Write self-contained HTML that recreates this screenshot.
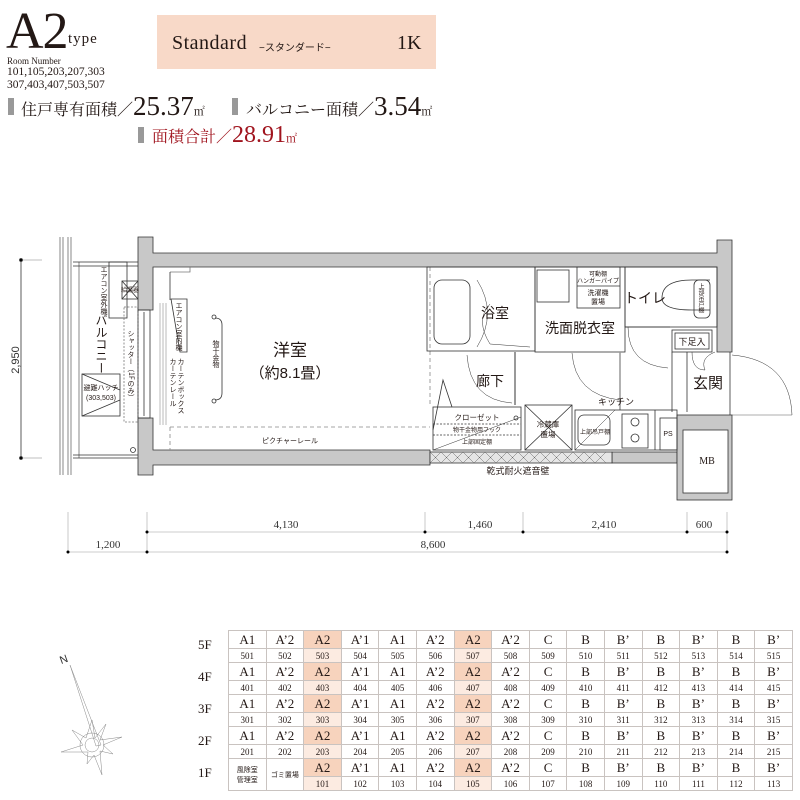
<!DOCTYPE html>
<html><head><meta charset="utf-8">
<style>
body{margin:0;background:#fff;}
#w{position:relative;width:800px;height:800px;overflow:hidden;font-family:"Liberation Serif","Noto Serif CJK SC",serif;color:#231815;}
.a{position:absolute;white-space:nowrap;}
table{position:absolute;left:228px;top:630px;border-collapse:collapse;table-layout:fixed;width:565px;}
td{border:1px solid #c9c3c0;text-align:center;padding:0;font-family:"Liberation Serif",serif;color:#231815;}
tr.t td{height:17px;font-size:13px;}
tr.n td{height:13px;font-size:9px;}
td.h{background:#f7d3bd;}
tr.n td.h{background:#fcebe1;}
.fl{position:absolute;left:198px;font-size:13px;font-family:"Liberation Serif",serif;}
.v{writing-mode:vertical-rl;font-family:"Noto Sans CJK JP",sans-serif;}
</style></head><body><div id="w">
<div class="a" style="left:6px;top:6px;font-size:52px;line-height:52px;letter-spacing:-1px">A2</div>
<div class="a" style="left:68px;top:31px;font-size:15px;letter-spacing:1px">type</div>
<div class="a" style="left:7px;top:56px;font-size:9px">Room Number</div>
<div class="a" style="left:7px;top:66px;font-size:11.5px;line-height:13px">101,105,203,207,303<br>307,403,407,503,507</div>
<div class="a" style="left:157px;top:15px;width:279px;height:54px;background:#f8d9c8"></div>
<div class="a" style="left:172px;top:32px;font-size:20px;letter-spacing:0.5px">Standard</div>
<div class="a" style="left:259px;top:39px;font-size:10px;font-family:'Liberation Sans','Noto Sans CJK JP',sans-serif">−スタンダード−</div>
<div class="a" style="left:397px;top:32px;font-size:20px">1K</div>
<div class="a" style="left:8px;top:98px;width:6px;height:17px;background:#999"></div>
<div class="a" style="left:21px;top:95px;font-size:16px;line-height:22px">住戸専有面積／<span style="font-size:27px">25.37</span><span style="font-size:11px">㎡</span></div>
<div class="a" style="left:232px;top:98px;width:6px;height:17px;background:#999"></div>
<div class="a" style="left:246px;top:95px;font-size:16px;line-height:22px">バルコニー面積／<span style="font-size:27px">3.54</span><span style="font-size:11px">㎡</span></div>
<div class="a" style="left:138px;top:127px;width:6px;height:16px;background:#999"></div>
<div class="a" style="left:152px;top:124px;font-size:16px;line-height:22px;color:#a0141e">面積合計／<span style="font-size:24px">28.91</span><span style="font-size:11px">㎡</span></div>

<svg class="a" style="left:0;top:0" width="800" height="800" viewBox="0 0 800 800" font-family="Liberation Sans,Noto Sans CJK JP,sans-serif" fill="none" stroke="#333" stroke-width="0.8">
<line x1="21" y1="260" x2="21" y2="458"/>
<line x1="21" y1="260" x2="42" y2="260" stroke="#aaa"/><line x1="21" y1="458" x2="42" y2="458" stroke="#aaa"/>
<circle cx="21" cy="260" r="1.5" fill="#000"/><circle cx="21" cy="458" r="1.5" fill="#000"/>
<text x="19" y="360" font-size="11" fill="#333" stroke="none" transform="rotate(-90 19 360)" text-anchor="middle">2,950</text>
<g stroke="#555" stroke-width="0.7"><line x1="60" y1="237" x2="60" y2="475"/><line x1="63" y1="237" x2="63" y2="475"/><line x1="68" y1="237" x2="68" y2="475"/><line x1="71" y1="237" x2="71" y2="475"/><line x1="79" y1="262" x2="79" y2="458"/></g>
<line x1="73" y1="262" x2="138" y2="262"/><line x1="73" y1="266" x2="138" y2="266"/>
<line x1="73" y1="455" x2="138" y2="455"/><line x1="73" y1="458" x2="138" y2="458"/>
<rect x="109" y="262" width="18" height="56"/>
<rect x="122" y="281" width="16" height="18"/><line x1="122" y1="281" x2="138" y2="299"/><line x1="138" y1="281" x2="122" y2="299"/>
<rect x="82" y="374" width="38" height="42"/><line x1="82" y1="374" x2="120" y2="390"/><line x1="82" y1="416" x2="120" y2="400"/>
<rect x="124" y="307" width="14" height="115" stroke-dasharray="2,1.5" stroke="#777"/>
<circle cx="133" cy="450" r="2.5"/>
<g fill="#c8c8c8" stroke="#333">
<path d="M138 237 H153 V253 H717 V240 H732 V352 H717 V267 H153 V310 H138 Z"/>
<path d="M138 418 H153 V450 H430 V465 H153 V475 H138 Z"/>
<rect x="612" y="452" width="65" height="11"/>
<rect x="677" y="415" width="55" height="85"/>
</g>
<rect x="683" y="430" width="45" height="63" fill="#fff"/>
<rect x="430" y="452" width="182" height="11" fill="#e6e6e6"/>
<path d="M430 452 L441 463 M441 452 L452 463 M452 452 L463 463 M463 452 L474 463 M474 452 L485 463 M485 452 L496 463 M496 452 L507 463 M507 452 L518 463 M518 452 L529 463 M529 452 L540 463 M540 452 L551 463 M551 452 L562 463 M562 452 L573 463 M573 452 L584 463 M584 452 L595 463 M595 452 L606 463 M441 452 L430 463 M452 452 L441 463 M463 452 L452 463 M474 452 L463 463 M485 452 L474 463 M496 452 L485 463 M507 452 L496 463 M518 452 L507 463 M529 452 L518 463 M540 452 L529 463 M551 452 L540 463 M562 452 L551 463 M573 452 L562 463 M584 452 L573 463 M595 452 L584 463 M606 452 L595 463" stroke="#666" stroke-width="0.5"/>
<rect x="138" y="310" width="12" height="108"/><line x1="144" y1="312" x2="144" y2="416"/>
<g stroke="#777" stroke-width="0.5"><line x1="160" y1="303" x2="160" y2="425"/><line x1="163" y1="303" x2="163" y2="425"/><line x1="166" y1="303" x2="166" y2="425"/></g>
<path d="M170 272 H190 V267" stroke="#777"/><line x1="170" y1="272" x2="170" y2="300"/>
<path d="M171 299 H187 V352 H180 Z"/>
<line x1="170" y1="427" x2="430" y2="427" stroke-dasharray="4,3" stroke="#888"/>
<line x1="170" y1="427" x2="170" y2="450" stroke-dasharray="4,3" stroke="#888"/>
<path d="M215 318 Q222 318 222 325 V393 Q222 400 215 400"/><circle cx="214" cy="317" r="2"/><circle cx="214" cy="401" r="2"/>
<line x1="430" y1="267" x2="430" y2="405" stroke-dasharray="4,3" stroke="#888"/>
<path d="M433 430 L443 380 L452 407"/>
<rect x="427" y="267" width="108" height="84"/>
<rect x="434" y="280" width="36" height="64" rx="8"/>
<path d="M477 280 Q498 313 477 347" stroke-width="0.5"/>
<path d="M490 344 L530 347 M490 304 Q475 320 490 344" stroke-width="0.5"/>
<rect x="535" y="267" width="90" height="85"/>
<rect x="537" y="270" width="32" height="32"/>
<rect x="577" y="267" width="43" height="41"/><line x1="577" y1="286" x2="620" y2="286"/>
<rect x="625" y="267" width="92" height="60"/>
<path d="M710 280 H692 Q662 280 662 298 Q662 310 692 310 H710"/>
<rect x="694" y="280" width="16" height="38" rx="5"/>
<line x1="625" y1="327" x2="670" y2="327"/>
<path d="M628 327 Q628 365 668 368" stroke-width="0.5"/>
<rect x="672" y="330" width="40" height="22"/><rect x="675" y="333" width="34" height="16"/>
<line x1="672" y1="352" x2="672" y2="412"/><line x1="687" y1="352" x2="687" y2="412"/>
<path d="M692 352 Q692 370 705 370 M715 352 Q700 358 705 370" stroke-width="0.5"/>
<line x1="730" y1="352" x2="730" y2="415"/>
<path d="M732 355 Q790 360 792 415" stroke-width="0.5"/><line x1="732" y1="415" x2="792" y2="415" stroke-width="0.4"/>
<line x1="515" y1="352" x2="515" y2="405" stroke="#999" stroke-width="2"/>
<path d="M467 355 Q470 400 512 403" stroke-width="0.5"/>
<path d="M572 353 Q575 395 620 400" stroke-width="0.5"/>
<line x1="620" y1="352" x2="620" y2="410" stroke="#999" stroke-width="1.5"/>
<rect x="433" y="407" width="88" height="43"/>
<line x1="433" y1="424" x2="521" y2="424" stroke-dasharray="2,1.5"/><line x1="433" y1="435" x2="521" y2="435" stroke-dasharray="2,1.5"/>
<line x1="433" y1="450" x2="521" y2="417" stroke-width="0.5"/><circle cx="516" cy="418" r="2"/>
<rect x="525" y="405" width="47" height="45"/><line x1="525" y1="405" x2="572" y2="450"/><line x1="572" y1="405" x2="525" y2="450"/>
<rect x="575" y="410" width="102" height="40"/>
<rect x="578" y="415" width="32" height="30" rx="6"/>
<line x1="575" y1="450" x2="615" y2="410" stroke-width="0.5"/>
<rect x="622" y="414" width="26" height="34"/><circle cx="635" cy="422" r="4"/><circle cx="635" cy="438" r="4"/>
<line x1="655" y1="410" x2="655" y2="450"/>
<rect x="660" y="418" width="17" height="32"/>
<g stroke="#bbb"><line x1="68" y1="512" x2="68" y2="552"/><line x1="147" y1="512" x2="147" y2="552"/><line x1="425" y1="512" x2="425" y2="532"/><line x1="523" y1="512" x2="523" y2="532"/><line x1="687" y1="512" x2="687" y2="532"/><line x1="727" y1="512" x2="727" y2="552"/>
<line x1="147" y1="532" x2="727" y2="532"/><line x1="68" y1="552" x2="727" y2="552"/></g>
<g fill="#000" stroke="none"><circle cx="147" cy="532" r="1.5"/><circle cx="425" cy="532" r="1.5"/><circle cx="523" cy="532" r="1.5"/><circle cx="687" cy="532" r="1.5"/><circle cx="727" cy="532" r="1.5"/><circle cx="68" cy="552" r="1.5"/><circle cx="147" cy="552" r="1.5"/><circle cx="727" cy="552" r="1.5"/></g>
<g fill="#333" stroke="none" font-size="11" text-anchor="middle" font-family="Liberation Serif,serif">
<text x="286" y="528">4,130</text><text x="480" y="528">1,460</text><text x="604" y="528">2,410</text><text x="704" y="528">600</text>
<text x="108" y="548">1,200</text><text x="433" y="548">8,600</text>
</g>
<g fill="#231815" stroke="none">
<text x="290" y="356" font-size="17" text-anchor="middle">洋室</text>
<text x="290" y="378" font-size="15" text-anchor="middle">（約8.1畳）</text>
<text x="495" y="318" font-size="14" text-anchor="middle">浴室</text>
<text x="580" y="333" font-size="14" text-anchor="middle">洗面脱衣室</text>
<text x="645" y="303" font-size="14" text-anchor="middle">トイレ</text>
<text x="490" y="386" font-size="14" text-anchor="middle">廊下</text>
<text x="708" y="388" font-size="15" text-anchor="middle">玄関</text>
<text x="692" y="345" font-size="9" text-anchor="middle">下足入</text>
<text x="707" y="464" font-size="10" text-anchor="middle" font-family="Liberation Serif,serif">MB</text>
<text x="668" y="436" font-size="7" text-anchor="middle">PS</text>
<text x="616" y="405" font-size="9" text-anchor="middle">キッチン</text>
<text x="477" y="420" font-size="7.5" text-anchor="middle">クローゼット</text>
<text x="477" y="432" font-size="6" text-anchor="middle">物干金物用フック</text>
<text x="477" y="444" font-size="6" text-anchor="middle">上部固定棚</text>
<text x="548" y="427" font-size="7.5" text-anchor="middle">冷蔵庫</text>
<text x="548" y="437" font-size="7.5" text-anchor="middle">置場</text>
<text x="595" y="434" font-size="6" text-anchor="middle">上部吊戸棚</text>
<text x="598" y="276" font-size="6" text-anchor="middle">可動棚</text>
<text x="598" y="283" font-size="6" text-anchor="middle">ハンガーパイプ</text>
<text x="598" y="295" font-size="7" text-anchor="middle">洗濯機</text>
<text x="598" y="304" font-size="7" text-anchor="middle">置場</text>
<text x="518" y="474" font-size="9" text-anchor="middle">乾式耐火遮音壁</text>
<text x="290" y="443" font-size="7" text-anchor="middle">ピクチャーレール</text>
<text x="101" y="390" font-size="7" text-anchor="middle">避難ハッチ</text>
<text x="101" y="400" font-size="7" text-anchor="middle">(303,503)</text>
<text x="130" y="292" font-size="6" text-anchor="middle">給湯器</text>
</g>
<g stroke="#888" stroke-width="0.5">
<path d="M70 665 L101 745 L96 746 Z"/>
<circle cx="92" cy="745" r="12"/><circle cx="92" cy="745" r="7"/>
<path d="M92 720 L95 738 L106 724 L100 740 L122 737 L103 745 L113 754 L100 751 L102 775 L94 755 L87 764 L88 752 L61 752 L83 745 L72 730 L86 738 Z"/>
</g>
<text x="60" y="663" font-size="11" fill="#333" stroke="none" transform="rotate(-20 64 660)">N</text>
</svg>
<div class="a v" style="left:99px;top:266px;font-size:7px;line-height:9px">エアコン室外機</div>
<div class="a v" style="left:174px;top:302px;font-size:7px;line-height:9px">エアコン室内機</div>
<div class="a v" style="left:211px;top:340px;font-size:7px;line-height:9px">物干金物</div>
<div class="a v" style="left:126px;top:330px;font-size:7px;line-height:9px">シャッター（1Fのみ）</div>
<div class="a v" style="left:177px;top:358px;font-size:7px;line-height:8px">カーテンボックス</div>
<div class="a v" style="left:169px;top:358px;font-size:7px;line-height:8px">カーテンレール</div>
<div class="a v" style="left:697px;top:283px;font-size:6px;line-height:8px">上部吊戸棚</div>
<div class="a v" style="left:94px;top:314px;font-size:12px;line-height:15px">バルコニー</div>

<div class="fl" style="top:637px">5F</div>
<div class="fl" style="top:669px">4F</div>
<div class="fl" style="top:701px">3F</div>
<div class="fl" style="top:733px">2F</div>
<div class="fl" style="top:765px">1F</div>
<table>
<tr class="t"><td>A1</td><td>A’2</td><td class="h">A2</td><td>A’1</td><td>A1</td><td>A’2</td><td class="h">A2</td><td>A’2</td><td>C</td><td>B</td><td>B’</td><td>B</td><td>B’</td><td>B</td><td>B’</td></tr>
<tr class="n"><td>501</td><td>502</td><td class="h">503</td><td>504</td><td>505</td><td>506</td><td class="h">507</td><td>508</td><td>509</td><td>510</td><td>511</td><td>512</td><td>513</td><td>514</td><td>515</td></tr>
<tr class="t"><td>A1</td><td>A’2</td><td class="h">A2</td><td>A’1</td><td>A1</td><td>A’2</td><td class="h">A2</td><td>A’2</td><td>C</td><td>B</td><td>B’</td><td>B</td><td>B’</td><td>B</td><td>B’</td></tr>
<tr class="n"><td>401</td><td>402</td><td class="h">403</td><td>404</td><td>405</td><td>406</td><td class="h">407</td><td>408</td><td>409</td><td>410</td><td>411</td><td>412</td><td>413</td><td>414</td><td>415</td></tr>
<tr class="t"><td>A1</td><td>A’2</td><td class="h">A2</td><td>A’1</td><td>A1</td><td>A’2</td><td class="h">A2</td><td>A’2</td><td>C</td><td>B</td><td>B’</td><td>B</td><td>B’</td><td>B</td><td>B’</td></tr>
<tr class="n"><td>301</td><td>302</td><td class="h">303</td><td>304</td><td>305</td><td>306</td><td class="h">307</td><td>308</td><td>309</td><td>310</td><td>311</td><td>312</td><td>313</td><td>314</td><td>315</td></tr>
<tr class="t"><td>A1</td><td>A’2</td><td class="h">A2</td><td>A’1</td><td>A1</td><td>A’2</td><td class="h">A2</td><td>A’2</td><td>C</td><td>B</td><td>B’</td><td>B</td><td>B’</td><td>B</td><td>B’</td></tr>
<tr class="n"><td>201</td><td>202</td><td class="h">203</td><td>204</td><td>205</td><td>206</td><td class="h">207</td><td>208</td><td>209</td><td>210</td><td>211</td><td>212</td><td>213</td><td>214</td><td>215</td></tr>
<tr class="t"><td rowspan="2" style="font-size:7px;font-family:'Noto Sans CJK JP',sans-serif;line-height:10px">風除室<br>管理室</td><td rowspan="2" style="font-size:7px;font-family:'Noto Sans CJK JP',sans-serif">ゴミ置場</td><td class="h">A2</td><td>A’1</td><td>A1</td><td>A’2</td><td class="h">A2</td><td>A’2</td><td>C</td><td>B</td><td>B’</td><td>B</td><td>B’</td><td>B</td><td>B’</td></tr>
<tr class="n"><td class="h">101</td><td>102</td><td>103</td><td>104</td><td class="h">105</td><td>106</td><td>107</td><td>108</td><td>109</td><td>110</td><td>111</td><td>112</td><td>113</td></tr>
</table>
</div></body></html>
